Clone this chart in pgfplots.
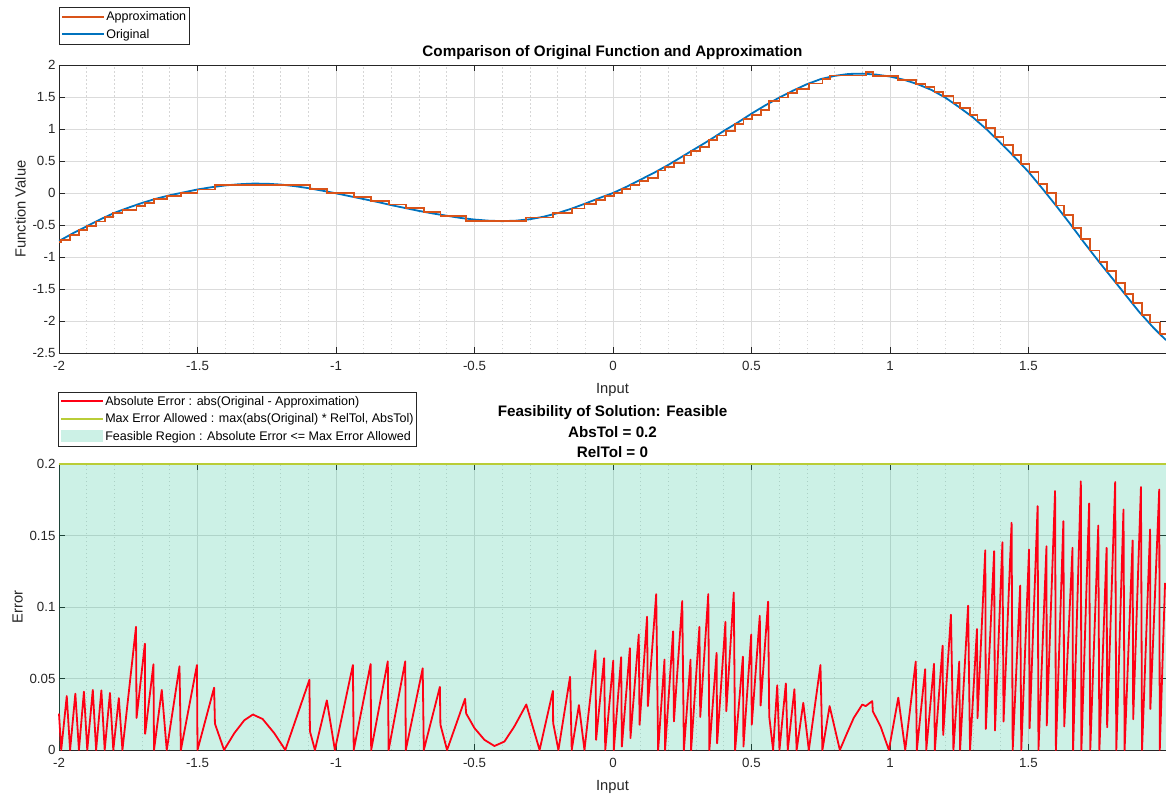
\documentclass[border=0pt]{standalone}
\usepackage{fontspec}
\setmainfont{Liberation Sans}
\usepackage{pgfplots}
\pgfplotsset{compat=1.18}

\definecolor{mlblue}{rgb}{0,0.447,0.741}
\definecolor{mlorange}{rgb}{0.85,0.325,0.098}
\definecolor{axgray}{rgb}{0.15,0.15,0.15}
\definecolor{errred}{RGB}{255,0,20}
\definecolor{tolgreen}{RGB}{185,205,55}
\definecolor{feas}{RGB}{0,185,130}

% legend samples (filled bars, so they keep their colour at any size)
\newcommand{\legline}[1]{\tikz[baseline=-4pt]\fill[#1] (0pt,-1pt) rectangle (42pt,1pt);}
\newcommand{\legpatch}{\tikz[baseline=-4pt]\fill[feas, fill opacity=0.2] (0pt,-6pt) rectangle (42pt,6pt);}

\tikzset{legbox/.style={draw=axgray, fill=white, line width=0.6pt, anchor=south west,
    inner xsep=3pt, inner ysep=1pt, font=\fontsize{12.5}{14}\selectfont}}

\pgfplotsset{
  mlaxis/.style={
    scale only axis, width=1107pt,
    xmin=-2, xmax=1.9964,
    xtick={-2,-1.5,-1,-0.5,0,0.5,1,1.5},
    xticklabels={-2,-1.5,-1,-0.5,0,0.5,1,1.5},
    minor x tick num=4,
    xmajorgrids, ymajorgrids, xminorgrids,
    major grid style={draw=black!14, line width=0.7pt},
    minor grid style={draw=black!16, line width=0.7pt, dash pattern=on 1.5pt off 2.5pt},
    axis line style={axgray, line width=0.8pt},
    major tick style={axgray, line width=0.8pt},
    major tick length=6pt, minor tick length=0pt,
    tick label style={font=\fontsize{13.3}{15}\selectfont, text=axgray},
    xticklabel style={yshift=-5pt},
    label style={font=\fontsize{14.7}{17}\selectfont, text=axgray},
    xlabel={Input},
    xlabel style={yshift=-6pt},
  },
}

\begin{document}
\begin{tikzpicture}
\begin{axis}[mlaxis, name=top, at={(0pt,0pt)}, anchor=north west, height=288pt,
  ymin=-2.5, ymax=2,
  ytick={-2.5,-2,-1.5,-1,-0.5,0,0.5,1,1.5,2},
  yticklabels={-2.5,-2,-1.5,-1,-0.5,0,0.5,1,1.5,2},
  ylabel={Function Value},
  title={Comparison of Original Function and Approximation},
  title style={font=\bfseries\fontsize{15.2}{17}\selectfont, at={(0.5,1)}, anchor=base, yshift=2pt}]

% original function
\addplot[mlblue, line width=1.8pt] coordinates {
(-2.00,-0.75) (-1.95,-0.63) (-1.90,-0.52) (-1.85,-0.41) (-1.80,-0.31)
(-1.75,-0.23) (-1.70,-0.155) (-1.65,-0.09) (-1.60,-0.035) (-1.55,0.01)
(-1.50,0.055) (-1.45,0.09) (-1.40,0.118) (-1.35,0.137) (-1.30,0.147)
(-1.25,0.145) (-1.20,0.132) (-1.15,0.108) (-1.10,0.076) (-1.05,0.037)
(-1.00,-0.005) (-0.95,-0.05) (-0.90,-0.095) (-0.85,-0.14) (-0.80,-0.19)
(-0.75,-0.235) (-0.70,-0.28) (-0.65,-0.32) (-0.60,-0.355) (-0.55,-0.39)
(-0.50,-0.415) (-0.45,-0.432) (-0.40,-0.44) (-0.35,-0.432) (-0.30,-0.41)
(-0.25,-0.37) (-0.20,-0.315) (-0.15,-0.245) (-0.10,-0.165) (-0.05,-0.08)
(0.00,0.00) (0.05,0.10) (0.10,0.21) (0.15,0.32) (0.20,0.44)
(0.25,0.57) (0.30,0.70) (0.35,0.83) (0.40,0.97) (0.45,1.10)
(0.50,1.24) (0.55,1.37) (0.60,1.49) (0.65,1.60) (0.70,1.70)
(0.75,1.78) (0.80,1.83) (0.85,1.86) (0.90,1.865) (0.95,1.85)
(1.00,1.82) (1.05,1.77) (1.10,1.70) (1.15,1.61) (1.20,1.49)
(1.25,1.34) (1.30,1.18) (1.35,0.99) (1.40,0.78) (1.45,0.56)
(1.50,0.33) (1.55,0.07) (1.60,-0.20) (1.65,-0.48) (1.70,-0.77)
(1.75,-1.05) (1.80,-1.32) (1.85,-1.59) (1.90,-1.86) (1.95,-2.10)
(1.9964,-2.30)
};

% lookup table approximation
\addplot[mlorange, line width=1.8pt, const plot mark left] coordinates {
(-2.000,-0.77) (-1.992,-0.731) (-1.960,-0.654) (-1.928,-0.582) (-1.898,-0.516)
(-1.866,-0.445) (-1.835,-0.380) (-1.804,-0.318) (-1.771,-0.264) (-1.720,-0.207)
(-1.689,-0.152) (-1.657,-0.099) (-1.611,-0.047) (-1.560,0.001) (-1.500,0.055)
(-1.437,0.122) (-1.094,0.060) (-1.033,-0.002) (-0.936,-0.063) (-0.873,-0.119)
(-0.810,-0.180) (-0.748,-0.237) (-0.683,-0.294) (-0.623,-0.356) (-0.530,-0.440)
(-0.313,-0.382) (-0.216,-0.311) (-0.149,-0.243) (-0.103,-0.170) (-0.061,-0.105)
(-0.028,-0.045) (0.003,0.006) (0.032,0.062) (0.063,0.121) (0.096,0.183)
(0.126,0.236) (0.163,0.351) (0.188,0.411) (0.220,0.472) (0.256,0.586)
(0.282,0.653) (0.315,0.716) (0.348,0.825) (0.376,0.898) (0.409,0.966)
(0.441,1.077) (0.471,1.157) (0.501,1.225) (0.533,1.295) (0.564,1.437)
(0.601,1.492) (0.631,1.558) (0.663,1.626) (0.707,1.711) (0.756,1.786)
(0.782,1.836) (0.912,1.885) (0.938,1.822) (1.030,1.763) (1.094,1.704)
(1.128,1.650) (1.161,1.584) (1.190,1.520) (1.229,1.403) (1.253,1.330)
(1.289,1.215) (1.316,1.140) (1.346,1.020) (1.379,0.880) (1.410,0.756)
(1.443,0.591) (1.474,0.450) (1.504,0.324) (1.536,0.143) (1.566,0.001)
(1.599,-0.195) (1.629,-0.346) (1.661,-0.544) (1.691,-0.718) (1.723,-0.899)
(1.756,-1.082) (1.784,-1.218) (1.817,-1.412) (1.847,-1.574) (1.878,-1.720)
(1.910,-1.908) (1.940,-2.023) (1.974,-2.203) (1.9964,-2.203)
};
\end{axis}

\begin{axis}[mlaxis, name=bot, at={(0pt,-399pt)}, anchor=north west, height=286pt,
  ymin=0, ymax=0.2, clip=false,
  ytick={0,0.05,0.1,0.15,0.2},
  yticklabels={0,0.05,0.1,0.15,0.2},
  ylabel={Error},
  title={Feasibility of Solution: Feasible\\AbsTol = 0.2\\RelTol = 0},
  title style={font=\bfseries\fontsize{15.2}{20.5}\selectfont, align=center,
    at={(0.5,1)}, anchor=south, inner sep=0pt, yshift=0pt}]

\addplot[draw=none, fill=feas, fill opacity=0.2]
  coordinates {(-2,0.2) (1.9964,0.2)} \closedcycle;
\addplot[tolgreen, line width=1.5pt]
  coordinates {(-2,0.2) (1.9964,0.2)};

% absolute error
\addplot[errred, line width=1.8pt, line join=round] coordinates {
(-2.000,0.0255) (-1.992,0) (-1.972,0.0377) (-1.960,0) (-1.941,0.0394)
(-1.928,0) (-1.910,0.0408) (-1.898,0) (-1.878,0.042) (-1.866,0)
(-1.847,0.0417) (-1.835,0) (-1.816,0.0399) (-1.804,0) (-1.784,0.0363)
(-1.771,0) (-1.722,0.0861) (-1.720,0.0224) (-1.690,0.0743) (-1.689,0.0113)
(-1.659,0.0599) (-1.657,0) (-1.629,0.042) (-1.611,0) (-1.565,0.0585)
(-1.560,0) (-1.502,0.0594) (-1.500,0) (-1.440,0.0436) (-1.437,0.0184)
(-1.404,0) (-1.367,0.0118) (-1.331,0.0208) (-1.300,0.0248) (-1.265,0.0217)
(-1.223,0.0118) (-1.183,0) (-1.096,0.0491) (-1.094,0.013) (-1.076,0)
(-1.033,0.0347) (-1.004,0) (-0.939,0.0594) (-0.936,0) (-0.875,0.0601)
(-0.873,0) (-0.813,0.062) (-0.810,0) (-0.750,0.062) (-0.748,0)
(-0.687,0.0571) (-0.683,0) (-0.625,0.0441) (-0.623,0.0177) (-0.599,0)
(-0.534,0.0358) (-0.530,0.0255) (-0.500,0.0153) (-0.464,0.0071) (-0.428,0.0028)
(-0.392,0.0059) (-0.356,0.0165) (-0.313,0.0318) (-0.265,0) (-0.217,0.0413)
(-0.216,0.0189) (-0.197,0) (-0.155,0.0512) (-0.149,0) (-0.123,0.0314)
(-0.103,0) (-0.063,0.0696) (-0.061,0.0071) (-0.032,0.0642) (-0.028,0)
(0.001,0.0625) (0.003,0) (0.0295,0.0649) (0.032,0.0024) (0.061,0.0712)
(0.063,0.0083) (0.093,0.0807) (0.096,0.0177) (0.123,0.0932) (0.126,0.0307)
(0.156,0.109) (0.163,0) (0.186,0.0632) (0.188,0) (0.217,0.083)
(0.220,0.020) (0.250,0.1042) (0.256,0) (0.280,0.0632) (0.282,0)
(0.312,0.0861) (0.315,0.0231) (0.344,0.109) (0.348,0) (0.374,0.0679)
(0.376,0.0047) (0.406,0.0896) (0.409,0.0271) (0.436,0.1101) (0.441,0)
(0.469,0.0653) (0.471,0.0024) (0.499,0.0807) (0.501,0.0177) (0.530,0.0939)
(0.533,0.0311) (0.560,0.1038) (0.564,0.0236) (0.578,0) (0.593,0.0453)
(0.601,0) (0.624,0.0465) (0.631,0) (0.655,0.0425) (0.663,0)
(0.687,0.033) (0.707,0) (0.749,0.0594) (0.756,0) (0.782,0.0307)
(0.819,0) (0.845,0.0118) (0.869,0.0224) (0.900,0.0318) (0.912,0.0307)
(0.936,0.0342) (0.938,0.0271) (0.966,0.0165) (0.996,0) (1.030,0.0366)
(1.055,0) (1.093,0.0619) (1.097,0) (1.127,0.0565) (1.131,0)
(1.159,0.0603) (1.162,0) (1.190,0.0729) (1.192,0.0105) (1.220,0.0946)
(1.229,0) (1.250,0.0619) (1.253,0) (1.282,0.1009) (1.289,0)
(1.314,0.0846) (1.316,0.0222) (1.344,0.1397) (1.346,0.0147) (1.376,0.139)
(1.379,0.0136) (1.406,0.1453) (1.410,0.0199) (1.439,0.1589) (1.443,0)
(1.470,0.115) (1.474,0) (1.502,0.1402) (1.504,0.0152) (1.533,0.1706)
(1.536,0) (1.565,0.1425) (1.566,0.0171) (1.596,0.1811) (1.599,0)
(1.626,0.16) (1.629,0.0164) (1.659,0.1414) (1.661,0) (1.689,0.1879)
(1.691,0) (1.719,0.1724) (1.723,0) (1.752,0.157) (1.756,0)
(1.782,0.1414) (1.784,0.0159) (1.813,0.1874) (1.817,0) (1.843,0.1682)
(1.847,0) (1.876,0.1465) (1.878,0.0215) (1.906,0.1839) (1.910,0)
(1.939,0.1542) (1.940,0.0287) (1.972,0.1822) (1.974,0) (1.993,0.1168)
};
\end{axis}

% legends, placed above the axes as in the original layout
\node[legbox] at ([yshift=20pt]top.north west) {%
  \renewcommand{\arraystretch}{1.25}%
  \begin{tabular}{@{}l@{\hspace{2pt}}l@{}}
  \legline{mlorange} & Approximation\\
  \legline{mlblue} & Original
  \end{tabular}};
\node[legbox] at ([yshift=17pt, xshift=-1pt]bot.north west) {%
  \renewcommand{\arraystretch}{1.25}%
  \begin{tabular}{@{}l@{\hspace{2pt}}l@{}}
  \legline{errred} & Absolute Error : abs(Original - Approximation)\\
  \legline{tolgreen} & Max Error Allowed : max(abs(Original) * RelTol, AbsTol)\\
  \legpatch & Feasible Region : Absolute Error <= Max Error Allowed
  \end{tabular}};

\pgfresetboundingbox
\path[use as bounding box] (-59pt,65pt) rectangle (1107pt,-732pt);
\end{tikzpicture}
\end{document}
